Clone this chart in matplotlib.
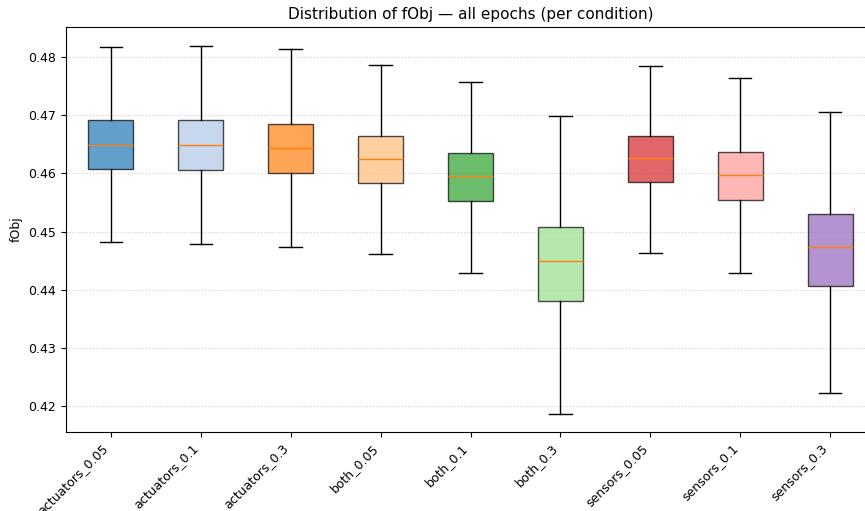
import matplotlib
matplotlib.use('Agg')
import matplotlib.pyplot as plt

conditions = ['actuators_0.05', 'actuators_0.1', 'actuators_0.3',
              'both_0.05', 'both_0.1', 'both_0.3',
              'sensors_0.05', 'sensors_0.1', 'sensors_0.3']
whislo = [0.4482, 0.4478, 0.4473, 0.4461, 0.4429, 0.4186, 0.4463, 0.4428, 0.4222]
q1 = [0.4608, 0.4606, 0.4600, 0.4584, 0.4552, 0.4380, 0.4585, 0.4554, 0.4407]
med = [0.4649, 0.4649, 0.4643, 0.4624, 0.4595, 0.4450, 0.4626, 0.4598, 0.4474]
q3 = [0.4692, 0.4692, 0.4685, 0.4664, 0.4635, 0.4508, 0.4664, 0.4637, 0.4530]
whishi = [0.4817, 0.4820, 0.4814, 0.4786, 0.4758, 0.4698, 0.4784, 0.4764, 0.4706]

stats = []
for i in range(len(conditions)):
    stats.append({'label': conditions[i], 'whislo': whislo[i], 'q1': q1[i],
                  'med': med[i], 'q3': q3[i], 'whishi': whishi[i], 'fliers': []})

fig = plt.figure(figsize=(8.65, 5.11), dpi=100)
ax = fig.add_axes([0.0763, 0.1546, 0.9353, 0.7926])

cmap = plt.get_cmap('tab20')
bp = ax.bxp(stats, widths=0.5, patch_artist=True, showfliers=False)
for i, box in enumerate(bp['boxes']):
    box.set_facecolor(cmap(i))
    box.set_alpha(0.7)

ax.set_xlim(0.5, 9.5)
ax.set_ylim(0.4155, 0.4852)
ax.set_xticklabels(conditions, rotation=45, ha='right', fontsize=9)
ax.tick_params(axis='y', labelsize=9)
ax.set_ylabel('fObj', fontsize=9)
ax.set_title('Distribution of fObj — all epochs (per condition)', fontsize=11)
ax.yaxis.grid(True, linestyle=':', alpha=0.6)
ax.set_axisbelow(True)

fig.savefig('out.png', dpi=100)
